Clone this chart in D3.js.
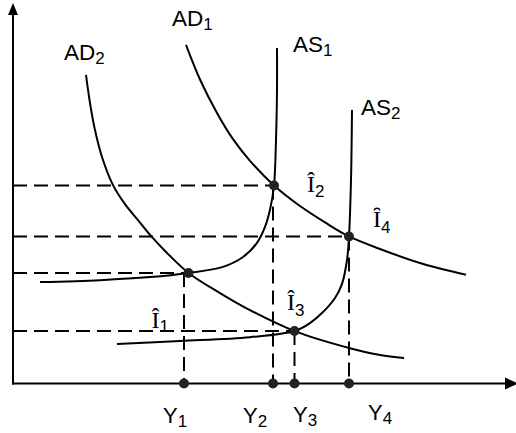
<!DOCTYPE html>
<html>
<head>
<meta charset="utf-8">
<script src="https://cdn.jsdelivr.net/npm/d3@7"></script>
<style>
  html, body { margin: 0; padding: 0; background: #fff; }
  svg { display: block; }
</style>
</head>
<body>
<svg id="chart" width="516" height="433"></svg>
<script>
// ---- data (output Y on x, price level on y; units) ----
const curveNames = ["AD1", "AD2", "AS1", "AS2"];
const ad1 = [[34.6,89.1],[37.4,80],[40.8,71.2],[44,64.3],[47.4,58.6],[52.2,52.1],[57.4,46.7],[62.4,42.4],[67.2,38.7],[73.4,35.4],[81.4,31.7],[90.6,28.6]];
const ad2 = [[14.6,81.2],[15.4,73.8],[16.4,66.7],[17.8,59.6],[20,52.2],[22.4,47.2],[25,43],[27.4,39.1],[31,34.1],[35.1,29.1],[41.4,23.8],[47.4,19.3],[56.3,13.8],[67.4,9.3],[73.4,7.5],[78.2,6.7]];
const as1 = [[5.4,26.7],[17.4,27.2],[27.4,28],[35.1,29.1],[42,30.7],[46,33.3],[48.8,37],[50.4,41.2],[51.4,45.7],[52.2,52.1],[52.6,64.1],[52.8,77.2],[52.8,88.3]];
const as2 = [[20.8,10.4],[33.4,11.2],[47.4,12.2],[56.3,13.8],[59.4,15.9],[62,18.8],[64.4,22.5],[65.8,26.2],[66.8,32.5],[67.2,38.7],[67.6,53.6],[67.8,72]];
const eqNames = ["1", "2", "3", "4"];
const eqY = [35.1, 52.2, 56.3, 67.2];     // output at equilibrium points
const eqP = [29.1, 52.1, 13.8, 38.7];     // price level at equilibrium points
const tickNames = ["1", "2", "3", "4"];
const tickY = [34.2, 52.0, 56.3, 67.2];   // Y1..Y4 on the output axis

// ---- layout ----
const svg = d3.select("#chart");
const x = d3.scaleLinear().domain([0, 100]).range([13, 513]);
const y = d3.scaleLinear().domain([0, 100]).range([383.5, 3.5]);
const ink = "#000";
const sans = "'Liberation Sans', Arial, sans-serif";
const serif = "'Liberation Serif', 'Times New Roman', serif";

const line = d3.line().x(d => x(d[0])).y(d => y(d[1])).curve(d3.curveCatmullRom.alpha(0.5));

// dashed guide lines
const g = svg.append("g").attr("stroke", ink).attr("stroke-width", 2).attr("stroke-dasharray", "14,7").attr("fill", "none");
eqNames.forEach((n, i) => {
  g.append("line").attr("x1", x(0)).attr("x2", x(eqY[i])).attr("y1", y(eqP[i])).attr("y2", y(eqP[i]));
  g.append("line").attr("x1", x(tickY[i])).attr("x2", x(tickY[i])).attr("y1", y(eqP[i])).attr("y2", y(0));
});

// curves
const curves = [ad1, ad2, as1, as2];
svg.append("g").selectAll("path").data(curves).join("path")
  .attr("d", line).attr("fill", "none").attr("stroke", ink).attr("stroke-width", 2);

// axes
svg.append("line").attr("x1", x(0)).attr("x2", x(0)).attr("y1", y(0) + 1).attr("y2", 14)
  .attr("stroke", ink).attr("stroke-width", 2);
svg.append("line").attr("x1", x(0) - 1).attr("x2", 506).attr("y1", y(0)).attr("y2", y(0))
  .attr("stroke", ink).attr("stroke-width", 2);
svg.append("path").attr("d", `M${x(0)},3 L${x(0) - 5},15 L${x(0) + 5},15 Z`).attr("fill", ink);
svg.append("path").attr("d", `M518,${y(0)} L505,${y(0) - 6} L505,${y(0) + 6} Z`).attr("fill", ink);

// dots
svg.append("g").selectAll("circle").data(eqNames).join("circle")
  .attr("cx", (d, i) => x(eqY[i])).attr("cy", (d, i) => y(eqP[i])).attr("r", 5).attr("fill", "#222");
svg.append("g").selectAll("circle").data(tickNames).join("circle")
  .attr("cx", (d, i) => x(tickY[i])).attr("cy", y(0)).attr("r", 5).attr("fill", "#222");

// label helper
function label(px, py, main, sub, subDy, font, size, subSize) {
  const t = svg.append("text").attr("x", px).attr("y", py).attr("fill", ink);
  t.append("tspan").attr("font-family", font).attr("font-size", size).text(main);
  t.append("tspan").attr("font-family", sans).attr("font-size", subSize).attr("dy", subDy).text(sub);
}

// curve labels, offset from each curve's free end
const curveLabelAt = [[ad1[0], -14, -19], [ad2[0], -22, -15], [as1[as1.length - 1], 16, 4], [as2[as2.length - 1], 9, 5]];
curveNames.forEach((n, i) => {
  const [pt, dx, dy] = curveLabelAt[i];
  label(x(pt[0]) + dx, y(pt[1]) + dy, n.slice(0, 2), n.slice(2), 4, sans, 22.5, 17);
});

// equilibrium labels
const eqGlyph = ["\u00CE", "\u00CE", "\u00CE", "\u020A"];
const eqOff = [[-37, 55, 4], [33, 6.5, 5], [-7.5, -21, 6], [24, -9.5, 6]];
eqNames.forEach((n, i) => {
  const [dx, dy, sd] = eqOff[i];
  label(x(eqY[i]) + dx, y(eqP[i]) + dy, eqGlyph[i], n, sd, serif, 24, 17);
});

// output labels
const tickOff = [[-21, 423], [-30, 423], [-1.5, 422], [19, 420]];
tickNames.forEach((n, i) => {
  label(x(tickY[i]) + tickOff[i][0], tickOff[i][1], "Y", n, 4, sans, 22, 17);
});
</script>
</body>
</html>
